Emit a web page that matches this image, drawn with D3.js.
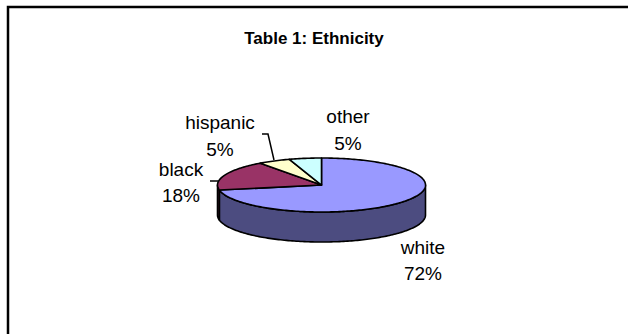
<!DOCTYPE html>
<html><head><meta charset="utf-8">
<script src="https://cdn.jsdelivr.net/npm/d3@7"></script>
<style>body{margin:0;background:#fff}svg{display:block}text{font-family:Arial,"Liberation Sans",sans-serif;fill:#000}</style>
</head><body>
<svg id="c" width="628" height="334"></svg>
<script>
const title = "Table 1: Ethnicity";
const categories = ["white", "black", "hispanic", "other"];
const values = [72, 18, 5, 5];
const topColors = ["#9999FF", "#993366", "#FFFFCC", "#CCFFFF"];
const sideColors = ["#4C4C80", "#4D1A33", "#808066", "#668080"];
// label layout: [centerX, baseline1, baseline2]
const labelPos = [[423, 254, 280], [181, 176, 202], [220, 129, 156], [348, 123, 150]];

const svg = d3.select("#c");
svg.append("rect").attr("x", 8).attr("y", 7).attr("width", 700).attr("height", 400)
  .attr("fill", "#fff").attr("stroke", "#000").attr("stroke-width", 2.5);

svg.append("text").attr("x", 314).attr("y", 44).attr("text-anchor", "middle")
  .style("font-weight", "bold").style("font-size", "17px").text(title);

const cx = 321.5, cy = 185, rx = 104, ry = 27, depth = 30;
const total = d3.sum(values);
const pie = d3.pie().sort(null).value(d => d)(values);
const pt = (a, dy = 0) => [cx + rx * Math.sin(a), cy - ry * Math.cos(a) + dy];
const line = d3.line();
function arcPts(a0, a1, dy = 0) {
  const n = Math.max(2, Math.ceil((a1 - a0) / 0.02));
  return d3.range(n + 1).map(i => pt(a0 + (a1 - a0) * i / n, dy));
}

// side walls (front half: angles between PI/2 and 3PI/2)
pie.forEach((p, i) => {
  const a0 = Math.max(p.startAngle, Math.PI / 2), a1 = Math.min(p.endAngle, 3 * Math.PI / 2);
  if (a1 <= a0) return;
  const topArc = arcPts(a0, a1), botArc = arcPts(a0, a1, depth).reverse();
  svg.append("path").attr("d", line(topArc.concat(botArc)) + "Z")
    .attr("fill", sideColors[i]).attr("stroke", "#000").attr("stroke-width", 1.6)
    .attr("stroke-linejoin", "round");
});

// top faces
pie.forEach((p, i) => {
  const pts = [[cx, cy]].concat(arcPts(p.startAngle, p.endAngle));
  svg.append("path").attr("d", line(pts) + "Z")
    .attr("fill", topColors[i]).attr("stroke", "#000").attr("stroke-width", 1.6)
    .attr("stroke-linejoin", "round");
});

// leader lines
const leaders = [null, [[210, 181], [218, 181]], [[262, 134], [268, 134], [274, 160]], null];
leaders.forEach(l => {
  if (!l) return;
  svg.append("path").attr("d", line(l)).attr("fill", "none").attr("stroke", "#000").attr("stroke-width", 1.5);
});

const fmt = d3.format(".0%");
pie.forEach((p, i) => {
  const [x, y1, y2] = labelPos[i];
  const g = svg.append("g").style("font-size", "19px").attr("text-anchor", "middle");
  g.append("text").attr("x", x).attr("y", y1).text(categories[i]);
  g.append("text").attr("x", x).attr("y", y2).text(fmt(values[i] / total));
});
</script>
</body></html>
